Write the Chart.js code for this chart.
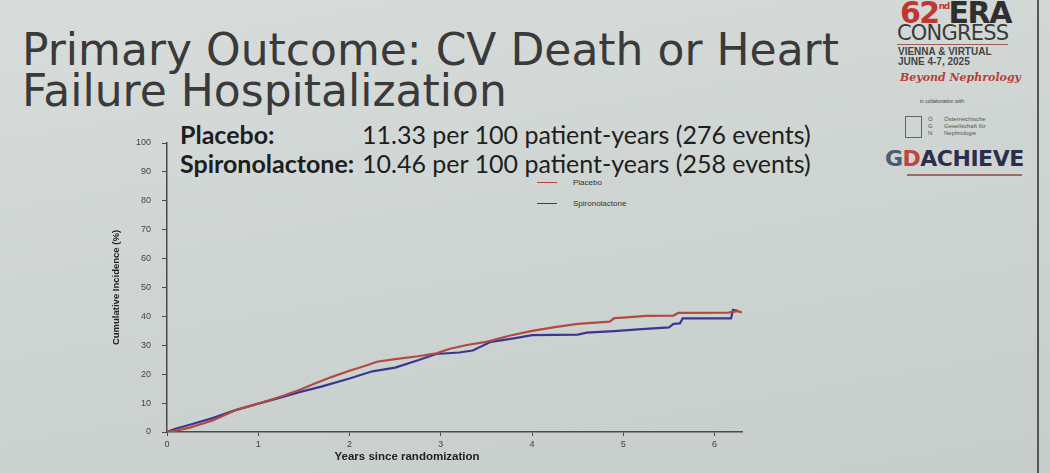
<!DOCTYPE html>
<html>
<head>
<meta charset="utf-8">
<script src="https://cdn.jsdelivr.net/npm/chart.js@4.4.1/dist/chart.umd.min.js"></script>
<style>
  html, body { margin:0; padding:0; }
  body {
    width:1050px; height:473px; overflow:hidden; position:relative;
    background: linear-gradient(170deg, #d8dddb 0%, #cfd5d3 45%, #c6cdcb 100%);
    font-family: "Liberation Sans", Arial, sans-serif;
  }
  #title {
    position:absolute; left:22px; top:29px;
    font-family:"DejaVu Sans", sans-serif; font-size:44px; line-height:41px;
    color:#3a3a3a; white-space:nowrap;
  }
  #rates {
    position:absolute; left:180px; top:120px;
    font-family: Lato, "Open Sans", sans-serif; font-size:25px; line-height:29px;
    color:#1e1e1e; white-space:nowrap;
  }
  #rates .lab { display:inline-block; width:182px; font-weight:bold; }
  #legend {
    position:absolute; left:537px; top:176px;
    font-family:"Liberation Sans", Arial, sans-serif; font-size:8px; color:#333;
  }
  #legend div { height:21px; line-height:14px; white-space:nowrap; }
  #legend span.sw { display:inline-block; width:20px; height:0; border-top:1.5px solid; vertical-align:middle; margin-right:16px; }
  #wrap { position:absolute; left:90px; top:125px; width:680px; height:348px; }
  #logo { position:absolute; left:880px; top:0; width:150px; color:#3a3a3a; }
  #logo div { position:absolute; white-space:nowrap; }
  #vline { position:absolute; left:1037px; top:0; width:2px; height:473px; background:#555; }
</style>
</head>
<body>
<div id="title">Primary Outcome: CV Death or Heart<br>Failure Hospitalization</div>

<div id="rates"></div>
<div id="legend"></div>

<div id="wrap"><canvas id="km"></canvas></div>

<div id="logo">
  <div style="left:20px; top:-5px; font:bold 30px 'DejaVu Sans',sans-serif; letter-spacing:-1.5px;"><span style="color:#c0372f">62</span><sup style="font-size:9px; color:#c0372f; vertical-align:14px;">nd</sup><span style="color:#2f2f2f">ERA</span></div>
  <div style="left:17px; top:21px; font:21px 'DejaVu Sans',sans-serif; letter-spacing:-0.8px; color:#3a3a3a;">CONGRESS</div>
  <div style="left:17px; top:44px; width:111px; height:1px; background:#a05a55;"></div>
  <div style="left:18px; top:46px; font:bold 10px 'Liberation Sans',sans-serif; color:#444;">VIENNA &amp; VIRTUAL</div>
  <div style="left:18px; top:56px; font:bold 10px 'Liberation Sans',sans-serif; color:#444;">JUNE 4-7, 2025</div>
  <div style="left:20px; top:71px; font:italic bold 11px 'DejaVu Serif',serif; color:#b84038;">Beyond Nephrology</div>
  <div style="left:40px; top:98px; font:5px 'Liberation Sans',sans-serif; color:#444;">in collaboration with</div>
  <div style="left:25px; top:116px; width:15px; height:20px; border:1px solid #666;"></div>
  <div style="left:48px; top:116px; font:6px/7px 'Liberation Sans',sans-serif; color:#555;">Ö<br>G<br>N</div>
  <div style="left:64px; top:116px; font:6px/7px 'Liberation Sans',sans-serif; color:#555;">Österreichische<br>Gesellschaft für<br>Nephrologie</div>
  <div style="left:5px; top:146px; font:bold 22px 'DejaVu Sans',sans-serif; letter-spacing:-0.5px;"><span style="color:#4a5a78">G</span><span style="color:#c0463d">D</span><span style="color:#2d2f4a">ACHIEVE</span></div>
  <div style="left:27px; top:174px; width:115px; height:2px; background:#9a6a68;"></div>
</div>
<div id="vline"></div>

<script>
// Kaplan-Meier style cumulative incidence
var seriesNames = ["Placebo", "Spironolactone"];
var seriesColors = ["#b04a42", "#3b3790"];
var rateLabels = ["Placebo:", "Spironolactone:"];
var rateTexts = ["11.33 per 100 patient-years (276 events)", "10.46 per 100 patient-years (258 events)"];

var placeboYears = [0, 0.1, 0.25, 0.5, 0.75, 1.0, 1.25, 1.45, 1.6, 1.8, 2.0, 2.2, 2.3, 2.5, 2.75, 2.95, 3.1, 3.3, 3.5, 3.75, 4.0, 4.25, 4.5, 4.85, 4.9, 5.0, 5.25, 5.55, 5.6, 6.15, 6.25, 6.3];
var placeboPct   = [0, 0.5, 1.5, 4.0, 7.5, 9.8, 12.3, 14.5, 16.5, 19.0, 21.2, 23.2, 24.3, 25.2, 26.2, 27.2, 28.8, 30.2, 31.2, 33.3, 35.0, 36.3, 37.4, 38.2, 39.4, 39.6, 40.2, 40.3, 41.2, 41.3, 41.8, 41.4];

var spiroYears = [0, 0.1, 0.25, 0.5, 0.75, 1.0, 1.25, 1.45, 1.7, 2.0, 2.25, 2.5, 2.75, 2.95, 3.2, 3.35, 3.55, 3.8, 4.0, 4.5, 4.6, 4.9, 5.2, 5.5, 5.55, 5.62, 5.65, 6.18, 6.2, 6.25];
var spiroPct   = [0, 1.2, 2.5, 4.8, 7.6, 9.8, 12.0, 13.8, 15.8, 18.5, 21.0, 22.3, 24.8, 27.0, 27.5, 28.2, 31.2, 32.4, 33.5, 33.7, 34.4, 34.9, 35.6, 36.2, 37.4, 37.6, 39.3, 39.3, 42.2, 42.0];

var xTitle = "Years since randomization";
var yTitle = "Cumulative Incidence (%)";

// rate text block and legend
var rates = document.getElementById('rates');
for (var i = 0; i < rateLabels.length; i++) {
    var d = document.createElement('div');
    d.innerHTML = '<span class="lab">' + rateLabels[i] + '</span>' + rateTexts[i];
    rates.appendChild(d);
}
var legend = document.getElementById('legend');
for (var i = 0; i < seriesNames.length; i++) {
    var l = document.createElement('div');
    l.innerHTML = '<span class="sw" style="border-color:' + seriesColors[i] + '"></span>' + seriesNames[i];
    legend.appendChild(l);
}

function toPoints(xs, ys) {
    var pts = [];
    for (var i = 0; i < xs.length; i++) pts.push({x: xs[i], y: ys[i]});
    return pts;
}

var axisColor = "#4a4a4a";
var tickFont = {family: "Liberation Sans", size: 9};

// x title sits left of the axis centre on the slide, so draw it by hand
var xTitlePlugin = {
    id: "xTitleLeft",
    afterDraw: function(chart) {
        var s = chart.scales.x, c = chart.ctx;
        c.save();
        c.font = "bold 11.5px 'Liberation Sans'";
        c.fillStyle = "#222";
        c.textAlign = "center";
        c.textBaseline = "middle";
        c.fillText(xTitle, s.getPixelForValue(2.63), s.bottom - 16);
        c.restore();
    }
};

const kmChart = new Chart("km", {
    type: "scatter",
    data: {
        datasets: [{
            label: seriesNames[0],
            data: toPoints(placeboYears, placeboPct),
            borderColor: seriesColors[0],
            showLine: true, pointRadius: 0, borderWidth: 2.2
        }, {
            label: seriesNames[1],
            data: toPoints(spiroYears, spiroPct),
            borderColor: seriesColors[1],
            showLine: true, pointRadius: 0, borderWidth: 2.2
        }]
    },
    options: {
        responsive: true,
        maintainAspectRatio: false,
        animation: false,
        layout: {padding: {left: 0, right: 28, top: 18, bottom: 0}},
        plugins: {legend: {display: false}, tooltip: {enabled: false}},
        scales: {
            x: {
                type: "linear", min: 0, max: 6.3,
                afterBuildTicks: function(s) { s.ticks = s.ticks.filter(function(t) { return Number.isInteger(t.value); }); },
                afterFit: function(s) { s.height = 41; },
                ticks: {stepSize: 1, color: "#444", font: tickFont, padding: 3, maxRotation: 0},
                grid: {drawOnChartArea: false, tickLength: 4, color: axisColor},
                border: {color: axisColor, width: 1.5},
                title: {display: false, text: xTitle}
            },
            y: {
                min: 0, max: 100,
                afterFit: function(s) { s.width = 77; },
                ticks: {stepSize: 10, color: "#444", font: tickFont, padding: 11},
                grid: {drawOnChartArea: false, tickLength: 5, color: axisColor},
                border: {color: axisColor, width: 1.5},
                title: {display: true, text: yTitle, color: "#222",
                        font: {family: "Liberation Sans", size: 9.5, weight: "bold"},
                        padding: {top: 21, bottom: 0}}
            }
        }
    },
    plugins: [xTitlePlugin]
});
</script>
</body>
</html>
